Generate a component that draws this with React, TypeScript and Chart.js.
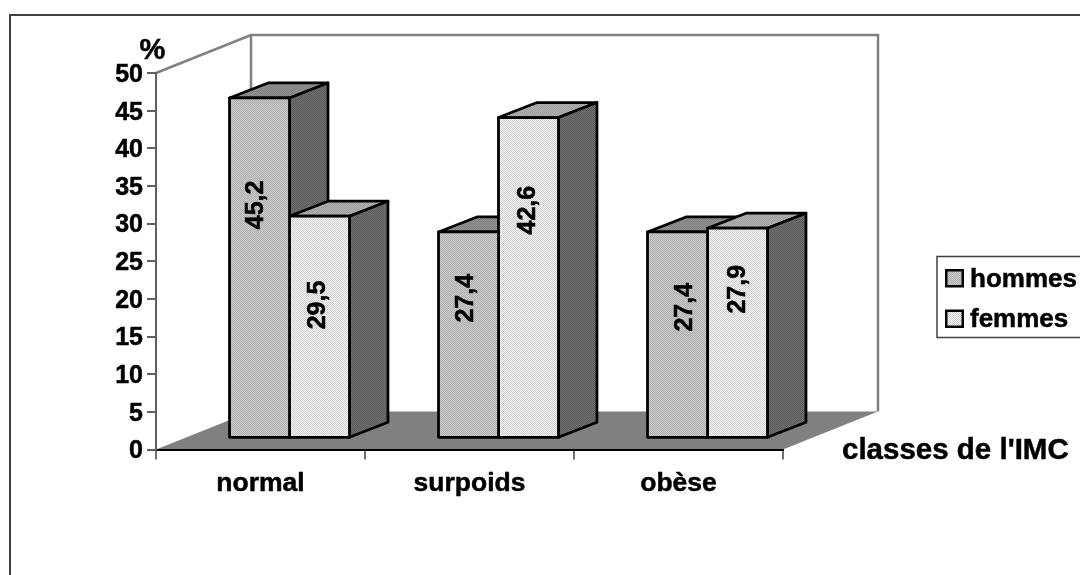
import React, { useEffect, useRef } from "react";
import { Chart, registerables } from "chart.js";

Chart.register(...registerables);

const categories = ["normal", "surpoids", "obèse"];
const hommes = [45.2, 27.4, 27.4];
const femmes = [29.5, 42.6, 27.9];
const seriesNames = ["hommes", "femmes"];
const valueTexts = [["45,2", "27,4", "27,4"], ["29,5", "42,6", "27,9"]];
// where each rotated value label sits, expressed on the value axis
const labelLevels = [[31.0, 18.6, 17.4], [17.7, 30.3, 19.8]];
const labelNudge = [[-3, -2, 8], [-1, 0, 1]];
const yMax = 50;
const yStep = 5;

const FONT = '"Liberation Sans", Arial, sans-serif';
const WALL_DX = 95;
const WALL_DY = 38;
const BAR_PLANE_DX = 29;
const BAR_PLANE_DY = 11.2;
const BAR_DX = 38.5;
const BAR_DY = 15;
const EDGE = 2.75;
const TEXT_WEIGHT = 0.5;

function checker(a: string, b: string): CanvasPattern {
  const c = document.createElement("canvas");
  c.width = 2;
  c.height = 2;
  const x = c.getContext("2d")!;
  x.fillStyle = a;
  x.fillRect(0, 0, 2, 2);
  x.fillStyle = b;
  x.fillRect(0, 0, 1, 1);
  x.fillRect(1, 1, 1, 1);
  return x.createPattern(c, "repeat")!;
}

export default function App() {
  const ref = useRef<HTMLCanvasElement | null>(null);
  useEffect(() => {
    const canvas = ref.current!;
    const fronts = [checker("#d2d2d2", "#a8a8a8"), checker("#ffffff", "#c6c6c6")];
    const tops = [checker("#989898", "#7c7c7c"), checker("#b8b8b8", "#989898")];
    const side = checker("#787878", "#545454");

    const poly = (ctx: CanvasRenderingContext2D, pts: number[][], fill: any) => {
      ctx.beginPath();
      pts.forEach((p, i) => (i ? ctx.lineTo(p[0], p[1]) : ctx.moveTo(p[0], p[1])));
      ctx.closePath();
      if (fill) {
        ctx.fillStyle = fill;
        ctx.fill();
      }
      ctx.lineWidth = EDGE;
      ctx.strokeStyle = "#000";
      ctx.lineJoin = "round";
      ctx.stroke();
    };

    const boxFaces = (ctx: CanvasRenderingContext2D, bar: any, topFill: any) => {
      const p = bar.getProps(["x", "y", "base", "width"], true);
      const l = p.x - p.width / 2;
      const r = p.x + p.width / 2;
      poly(ctx, [[l, p.y], [l + BAR_DX, p.y - BAR_DY], [r + BAR_DX, p.y - BAR_DY], [r, p.y]], topFill);
      poly(ctx, [[r, p.y], [r + BAR_DX, p.y - BAR_DY], [r + BAR_DX, p.base - BAR_DY], [r, p.base]], side);
    };

    const scene = {
      id: "scene",
      beforeDraw(chart: any) {
        const { ctx, chartArea: a } = chart;
        ctx.save();
        // outer frame
        ctx.strokeStyle = "#404040";
        ctx.lineWidth = 2;
        ctx.beginPath();
        ctx.moveTo(10, 575);
        ctx.lineTo(10, 15);
        ctx.lineTo(1080, 15);
        ctx.stroke();
        // floor
        ctx.fillStyle = "#808080";
        ctx.beginPath();
        ctx.moveTo(a.left, a.bottom);
        ctx.lineTo(a.right, a.bottom);
        ctx.lineTo(a.right + WALL_DX, a.bottom - WALL_DY);
        ctx.lineTo(a.left + WALL_DX, a.bottom - WALL_DY);
        ctx.closePath();
        ctx.fill();
        // walls
        ctx.strokeStyle = "#808080";
        ctx.lineWidth = 2.5;
        ctx.beginPath();
        ctx.moveTo(a.left, a.top);
        ctx.lineTo(a.left + WALL_DX, a.top - WALL_DY);
        ctx.lineTo(a.right + WALL_DX, a.top - WALL_DY);
        ctx.lineTo(a.right + WALL_DX, a.bottom - WALL_DY);
        ctx.moveTo(a.left + WALL_DX, a.top - WALL_DY);
        ctx.lineTo(a.left + WALL_DX, a.bottom - WALL_DY);
        ctx.stroke();
        ctx.restore();
      },
      beforeDatasetDraw(chart: any, args: any) {
        const { ctx } = chart;
        ctx.save();
        ctx.translate(BAR_PLANE_DX, -BAR_PLANE_DY);
        // the library paints the last dataset first: the back faces of both
        // series go down here so that the hommes fronts land on top
        if (args.index === 1) {
          chart.getDatasetMeta(0).data.forEach((bar: any, i: number) => {
            boxFaces(ctx, bar, tops[0]);
            boxFaces(ctx, args.meta.data[i], tops[1]);
          });
        }
      },
      afterDatasetDraw(chart: any, args: any) {
        const { ctx } = chart;
        // outline centred on the bar's own edges
        args.meta.data.forEach((bar: any) => {
          const p = bar.getProps(["x", "y", "base", "width"], true);
          const l = p.x - p.width / 2;
          const r = p.x + p.width / 2;
          poly(ctx, [[l, p.y], [r, p.y], [r, p.base], [l, p.base]], null);
        });
        ctx.restore();
      },
      afterDraw(chart: any) {
        const { ctx, scales } = chart;
        ctx.save();
        ctx.fillStyle = "#000";
        ctx.strokeStyle = "#000";
        ctx.lineWidth = TEXT_WEIGHT;
        ctx.textAlign = "center";
        ctx.textBaseline = "middle";
        ctx.font = `bold 25px ${FONT}`;
        [0, 1].forEach((d) => {
          chart.getDatasetMeta(d).data.forEach((bar: any, i: number) => {
            const y = scales.y.getPixelForValue(labelLevels[d][i]) - BAR_PLANE_DY;
            ctx.save();
            ctx.translate(bar.x + BAR_PLANE_DX + labelNudge[d][i], y);
            ctx.rotate(-Math.PI / 2);
            ctx.fillText(valueTexts[d][i], 0, 0);
            ctx.strokeText(valueTexts[d][i], 0, 0);
            ctx.restore();
          });
        });
        // axis captions
        ctx.textBaseline = "alphabetic";
        ctx.font = `bold 29px ${FONT}`;
        ctx.fillText("%", 152.5, 59);
        ctx.strokeText("%", 152.5, 59);
        ctx.textAlign = "left";
        ctx.font = `bold 29.5px ${FONT}`;
        ctx.fillText("classes de l'IMC", 842, 459);
        ctx.strokeText("classes de l'IMC", 842, 459);
        // legend
        ctx.strokeStyle = "#404040";
        ctx.lineWidth = 1.5;
        ctx.strokeRect(937, 256.5, 160, 81);
        const swatchY = [269, 309.5];
        const baseY = [287, 327];
        seriesNames.forEach((name, i) => {
          ctx.fillStyle = "#000";
          ctx.fillRect(945, swatchY[i], 19, 18.5);
          ctx.fillStyle = fronts[i];
          ctx.fillRect(947.5, swatchY[i] + 2.5, 14, 13.5);
          ctx.fillStyle = "#000";
          ctx.strokeStyle = "#000";
          ctx.lineWidth = TEXT_WEIGHT;
          ctx.font = `bold 26px ${FONT}`;
          ctx.fillText(name, 970, baseY[i]);
          ctx.strokeText(name, 970, baseY[i]);
        });
        ctx.restore();
      },
    };

    const chart = new Chart(canvas, {
      type: "bar",
      data: {
        labels: categories,
        datasets: [
          {
            label: seriesNames[0],
            data: hommes,
            clip: false,
            backgroundColor: fronts[0],
            borderWidth: 0,
            categoryPercentage: 0.574,
            barPercentage: 1,
          },
          {
            label: seriesNames[1],
            data: femmes,
            clip: false,
            backgroundColor: fronts[1],
            borderWidth: 0,
            categoryPercentage: 0.574,
            barPercentage: 1,
          },
        ],
      } as any,
      options: {
        responsive: false,
        animation: false,
        layout: { padding: { top: 73, right: 297, left: 0, bottom: 0 } },
        plugins: { legend: { display: false }, tooltip: { enabled: false }, title: { display: false } },
        scales: {
          x: {
            afterFit: (s: any) => { s.height = 125.5; },
            grid: { drawOnChartArea: false, color: "#707070", lineWidth: 2, tickLength: 10, offset: true },
            border: { color: "#000", width: 2 },
            ticks: {
              color: "#000",
              font: { family: FONT, weight: "bold", size: 26.5 },
              padding: 8,
              maxRotation: 0,
              textStrokeColor: "#000",
              textStrokeWidth: TEXT_WEIGHT,
            },
          },
          y: {
            min: 0,
            max: yMax,
            afterFit: (s: any) => { s.width = 156; },
            grid: { drawOnChartArea: false, color: "#606060", lineWidth: 2, tickLength: 9 },
            border: { color: "#606060", width: 2 },
            ticks: {
              stepSize: yStep,
              color: "#000",
              font: { family: FONT, weight: "bold", size: 25 },
              padding: 4,
              labelOffset: 2,
              autoSkip: false,
              textStrokeColor: "#000",
              textStrokeWidth: TEXT_WEIGHT,
            },
          },
        },
      } as any,
      plugins: [scene as any],
    });
    return () => chart.destroy();
  }, []);

  return (
    <div style={{ position: "fixed", left: 0, top: 0, width: 1080, height: 575, background: "#fff", overflow: "hidden" }}>
      <canvas ref={ref} width={1080} height={575} style={{ display: "block" }} />
    </div>
  );
}
